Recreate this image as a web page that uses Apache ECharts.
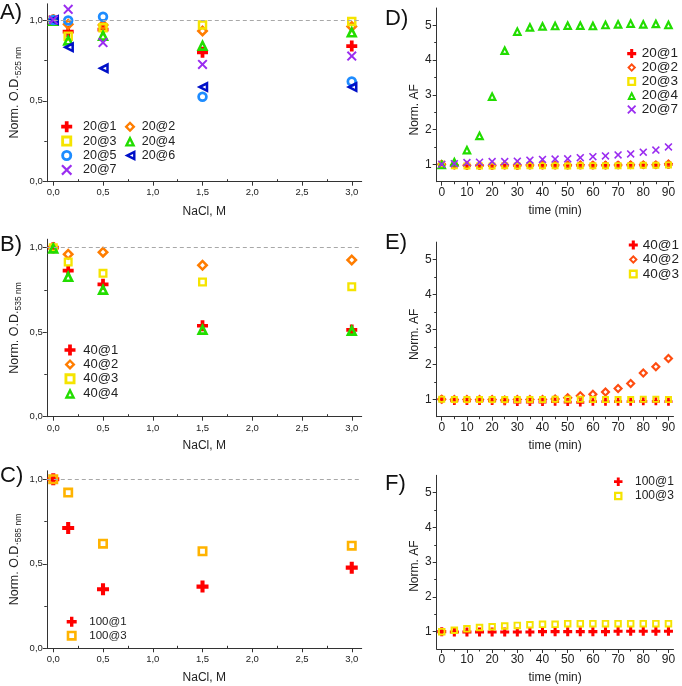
<!DOCTYPE html>
<html><head><meta charset="utf-8">
<script src="https://cdn.jsdelivr.net/npm/echarts@6/dist/echarts.min.js"></script>
<style>html,body{margin:0;padding:0;background:#fff}#c{width:682px;height:686px}</style>
</head><body><div id="c"></div>
<script>
// ---------- data ----------
const nacl = [0, 0.15, 0.5, 1.5, 3.0];
const time = [0, 5, 10, 15, 20, 25, 30, 35, 40, 45, 50, 55, 60, 65, 70, 75, 80, 85, 90];

// Panel A (Norm. O.D. 525 nm)
const a20_1 = [1.0, 0.928, 0.94, 0.80, 0.839];
const a20_2 = [1.0, 0.973, 0.969, 0.932, 0.959];
const a20_3 = [1.0, 0.90, 0.952, 0.969, 0.99];
const a20_4 = [1.0, 0.878, 0.907, 0.846, 0.928];
const a20_5 = [1.0, 0.997, 1.02, 0.525, 0.62];
const a20_6 = [1.0, 0.831, 0.701, 0.585, 0.585];
const a20_7 = [1.0, 1.066, 0.86, 0.725, 0.777];

// Panel B (Norm. O.D. 535 nm)
const b40_1 = [1.0, 0.864, 0.783, 0.538, 0.513];
const b40_2 = [1.0, 0.961, 0.973, 0.896, 0.927];
const b40_3 = [1.0, 0.915, 0.848, 0.797, 0.769];
const b40_4 = [1.0, 0.832, 0.756, 0.519, 0.513];

// Panel C (Norm. O.D. 585 nm)
const c100_1 = [1.0, 0.712, 0.349, 0.365, 0.477];
const c100_3 = [1.0, 0.921, 0.619, 0.574, 0.607];

// Panel D (Norm. AF)
const d20_1 = [1.0, 0.97, 0.96, 0.96, 0.96, 0.97, 0.96, 0.97, 0.97, 0.97, 0.97, 0.97, 0.97, 0.97, 0.98, 0.98, 0.98, 0.98, 0.99];
const d20_2 = [1.0, 0.98, 0.97, 0.97, 0.97, 0.98, 0.98, 0.98, 0.98, 0.98, 0.98, 0.99, 0.98, 0.98, 0.98, 0.99, 0.99, 0.99, 1.02];
const d20_3 = [1.0, 0.96, 0.95, 0.95, 0.95, 0.96, 0.95, 0.96, 0.96, 0.96, 0.95, 0.96, 0.96, 0.96, 0.96, 0.96, 0.97, 0.97, 0.98];
const d20_4 = [1.0, 1.08, 1.43, 1.84, 2.97, 4.29, 4.84, 4.96, 4.99, 5.0, 5.01, 5.01, 5.0, 5.03, 5.05, 5.07, 5.05, 5.06, 5.03];
const d20_7 = [1.0, 1.02, 1.05, 1.06, 1.08, 1.08, 1.09, 1.12, 1.14, 1.15, 1.16, 1.19, 1.22, 1.24, 1.27, 1.30, 1.35, 1.41, 1.50];

// Panel E
const e40_1 = [1.0, 0.95, 0.95, 0.95, 0.95, 0.94, 0.92, 0.92, 0.92, 0.93, 0.92, 0.91, 0.93, 0.93, 0.93, 0.93, 0.94, 0.94, 0.93];
const e40_2 = [1.0, 0.99, 0.99, 0.99, 0.99, 0.98, 0.99, 0.99, 0.99, 1.01, 1.04, 1.10, 1.14, 1.21, 1.31, 1.45, 1.75, 1.93, 2.17];
const e40_3 = [1.0, 0.99, 0.99, 0.99, 0.99, 0.99, 0.99, 0.99, 0.99, 1.0, 1.0, 1.0, 0.99, 0.99, 0.99, 0.99, 1.0, 1.0, 0.99];

// Panel F
const f100_1 = [1.0, 0.99, 0.99, 0.99, 0.99, 0.99, 0.99, 0.99, 1.0, 1.0, 1.0, 1.0, 1.0, 1.0, 1.01, 1.01, 1.01, 1.01, 1.01];
const f100_3 = [1.0, 1.04, 1.08, 1.12, 1.14, 1.16, 1.18, 1.20, 1.21, 1.21, 1.23, 1.23, 1.23, 1.23, 1.23, 1.23, 1.23, 1.23, 1.23];

// ticks
const naclTicks = [0, 0.5, 1.0, 1.5, 2.0, 2.5, 3.0];
const naclMinor = [0.25, 0.75, 1.25, 1.75, 2.25, 2.75];
const odTicks = [0, 0.5, 1.0];
const odMinor = [0.25, 0.75];
const timeTicks = [0, 10, 20, 30, 40, 50, 60, 70, 80, 90];
const timeMinor = [5, 15, 25, 35, 45, 55, 65, 75, 85];
const afTicks = [1, 2, 3, 4, 5];
const afMinor = [1.5, 2.5, 3.5, 4.5];

// ---------- marker shapes (hollow shapes as filled rings) ----------
const FONT = 'Liberation Sans, Arial, sans-serif';
const TXT = '#222';
const AX = '#333';
const PLUS = 'path://M3.3,0H6.7V3.3H10V6.7H6.7V10H3.3V6.7H0V3.3H3.3Z';
const CROSS = 'path://M0,1.4L1.4,0L5,3.6L8.6,0L10,1.4L6.4,5L10,8.6L8.6,10L5,6.4L1.4,10L0,8.6L3.6,5Z';
const SQUARE = 'path://M0,0H10V10H0Z M2.6,2.6V7.4H7.4V2.6Z';
const CIRCLE = 'path://M0,5A5,5,0,1,1,10,5A5,5,0,1,1,0,5Z M2.6,5A2.4,2.4,0,1,0,7.4,5A2.4,2.4,0,1,0,2.6,5Z';
const DIAMOND = 'path://M5,0L10,5L5,10L0,5Z M5,3.0L3.0,5L5,7.0L7.0,5Z';
const TRI = 'path://M5,0L10,10L0,10Z M5,4.92L3.56,7.8L6.44,7.8Z';
const LTRI = 'path://M0,5L10,0L10,10Z M4.92,5L7.8,6.44L7.8,3.56Z';

const marks = {
  plus:    {symbol: PLUS, color: '#ff0000'},
  cross:   {symbol: CROSS, color: '#9a2cf0'},
  diamond: {symbol: DIAMOND, color: '#ff7d00'},
  diamondR:{symbol: DIAMOND, color: '#ff4d10'},
  square:  {symbol: SQUARE, color: '#f5e400'},
  squareO: {symbol: SQUARE, color: '#ffb300'},
  circle:  {symbol: CIRCLE, color: '#1e8cff'},
  tri:     {symbol: TRI, color: '#22dd00'},
  ltri:    {symbol: LTRI, color: '#0010c8'}
};

function ser(name, xs, ys, g, mk, size, extra) {
  const m = marks[mk];
  const s = {
    type: 'scatter', name: name,
    xAxisIndex: 2 * g, yAxisIndex: 2 * g,
    data: xs.map((x, i) => [x, ys[i]]),
    symbol: m.symbol, symbolSize: size, symbolKeepAspect: true,
    itemStyle: {color: m.color, borderWidth: 0, opacity: 1},
    emphasis: {disabled: true},
    z: 3
  };
  return Object.assign(s, extra || {});
}

const dash = {
  markLine: {
    silent: true, symbol: 'none', label: {show: false}, animation: false,
    lineStyle: {color: '#a8a8a8', type: [4, 3], width: 1},
    data: [{yAxis: 1}]
  }
};

const grids = [
  {left: 46.8, top: 3.8, width: 314.9, height: 177.9},
  {left: 46.8, top: 239.2, width: 314.9, height: 177.5},
  {left: 46.8, top: 470.8, width: 314.9, height: 177.5},
  {left: 436.7, top: 8, width: 236.8, height: 173.7},
  {left: 436.7, top: 242.1, width: 236.8, height: 174.6},
  {left: 436.7, top: 475.3, width: 236.8, height: 173.7}
];

const commaFmt = v => v.toFixed(1).replace('.', ',');
const intFmt = v => String(Math.round(v));

function xAxes(g, min, max, ticks, minors, fmt, fs, margin, name, nameFs, nameGap, minorInside) {
  return [{
    type: 'value', gridIndex: g, min: min, max: max, position: 'bottom',
    axisLine: {onZero: false, lineStyle: {color: AX, width: 1}},
    axisTick: {show: true, customValues: ticks, length: 4, lineStyle: {color: AX}},
    axisLabel: {customValues: ticks, formatter: fmt, fontSize: fs, color: TXT, margin: margin, fontFamily: FONT},
    splitLine: {show: false},
    name: name, nameLocation: 'middle', nameGap: nameGap,
    nameTextStyle: {fontSize: nameFs, color: TXT, fontFamily: FONT}
  }, {
    type: 'value', gridIndex: g, min: min, max: max, position: 'bottom',
    axisLine: {show: false, onZero: false},
    axisTick: {show: true, customValues: minors, length: 2.5, inside: !!minorInside, lineStyle: {color: AX}},
    axisLabel: {show: false}, splitLine: {show: false}
  }];
}
function yAxes(g, min, max, ticks, minors, fmt, fs, margin, name, nameStyle, nameGap) {
  return [{
    type: 'value', gridIndex: g, min: min, max: max, position: 'left',
    axisLine: {onZero: false, lineStyle: {color: AX, width: 1}},
    axisTick: {show: true, customValues: ticks, length: 4, lineStyle: {color: AX}},
    axisLabel: {customValues: ticks, formatter: fmt, fontSize: fs, color: TXT, margin: margin, fontFamily: FONT},
    splitLine: {show: false},
    name: name, nameLocation: 'middle', nameGap: nameGap, nameRotate: 90,
    nameTextStyle: nameStyle
  }, {
    type: 'value', gridIndex: g, min: min, max: max, position: 'left',
    axisLine: {show: false, onZero: false},
    axisTick: {show: true, customValues: minors, length: 2.5, lineStyle: {color: AX}},
    axisLabel: {show: false}, splitLine: {show: false}
  }];
}

function odName() {
  return {
    fontSize: 12.5, color: TXT, fontFamily: FONT,
    rich: {
      a: {fontSize: 12.5, color: TXT, fontFamily: FONT, lineHeight: 17, verticalAlign: 'middle'},
      s: {fontSize: 8.5, color: TXT, fontFamily: FONT, lineHeight: 17, verticalAlign: 'bottom'}
    }
  };
}
function afName(shift) {
  return {fontSize: 12, color: TXT, fontFamily: FONT, padding: [0, shift, 0, 0]};
}

const xAxis = [].concat(
  xAxes(0, -0.065, 3.1, naclTicks, naclMinor, commaFmt, 9.5, 6, 'NaCl, M', 12, 24, true),
  xAxes(1, -0.065, 3.1, naclTicks, naclMinor, commaFmt, 9.5, 7, 'NaCl, M', 12, 23, true),
  xAxes(2, -0.065, 3.1, naclTicks, naclMinor, commaFmt, 9.5, 6.5, 'NaCl, M', 12, 23, true),
  xAxes(3, -2, 92, timeTicks, timeMinor, intFmt, 12, 4.5, 'time (min)', 12, 23, false),
  xAxes(4, -2, 92, timeTicks, timeMinor, intFmt, 12, 5, 'time (min)', 12, 23, false),
  xAxes(5, -2, 92, timeTicks, timeMinor, intFmt, 12, 4.5, 'time (min)', 12, 23, false)
);
const yAxis = [].concat(
  yAxes(0, 0, 1.1, odTicks, odMinor, commaFmt, 9.5, 4, '{a|Norm. O.D.}{s|525 nm}', odName(), 24),
  yAxes(1, 0, 1.05, odTicks, odMinor, commaFmt, 9.5, 4, '{a|Norm. O.D.}{s|535 nm}', odName(), 24),
  yAxes(2, 0, 1.05, odTicks, odMinor, commaFmt, 9.5, 4, '{a|Norm. O.D.}{s|585 nm}', odName(), 24),
  yAxes(3, 0.5, 5.5, afTicks, afMinor, intFmt, 12, 5, 'Norm. AF', afName(30), 15),
  yAxes(4, 0.5, 5.5, afTicks, afMinor, intFmt, 12, 5, 'Norm. AF', afName(10), 15),
  yAxes(5, 0.5, 5.5, afTicks, afMinor, intFmt, 12, 5, 'Norm. AF', afName(8), 15)
);

const series = [
  // A
  ser('20@1', nacl, a20_1, 0, 'plus', 11, dash),
  ser('20@2', nacl, a20_2, 0, 'diamond', 12),
  ser('20@3', nacl, a20_3, 0, 'square', 9.5),
  ser('20@4', nacl, a20_4, 0, 'tri', 12),
  ser('20@5', nacl, a20_5, 0, 'circle', 10.5),
  ser('20@6', nacl, a20_6, 0, 'ltri', 11.5),
  ser('20@7', nacl, a20_7, 0, 'cross', 10),
  // B
  ser('40@1', nacl, b40_1, 1, 'plus', 11, dash),
  ser('40@2', nacl, b40_2, 1, 'diamond', 12),
  ser('40@3', nacl, b40_3, 1, 'square', 9),
  ser('40@4', nacl, b40_4, 1, 'tri', 12),
  // C
  ser('100@1', nacl, c100_1, 2, 'plus', 12, dash),
  ser('100@3', nacl, c100_3, 2, 'squareO', 10),
  // D
  ser('20@1 ', time, d20_1, 3, 'plus', 8),
  ser('20@2 ', time, d20_2, 3, 'diamondR', 9.5),
  ser('20@3 ', time, d20_3, 3, 'square', 7),
  ser('20@4 ', time, d20_4, 3, 'tri', 10),
  ser('20@7 ', time, d20_7, 3, 'cross', 8),
  // E
  ser('40@1 ', time, e40_1, 4, 'plus', 8),
  ser('40@2 ', time, e40_2, 4, 'diamondR', 10),
  ser('40@3 ', time, e40_3, 4, 'square', 7),
  // F
  ser('100@1 ', time, f100_1, 5, 'plus', 9),
  ser('100@3 ', time, f100_3, 5, 'square', 7.5)
];

function leg(names, left, top, iw, lh, fs, padL) {
  return {
    orient: 'vertical', left: left, top: top, padding: 0,
    itemWidth: iw, itemHeight: iw, itemGap: 0, selectedMode: false,
    data: names,
    formatter: n => n.trim(),
    textStyle: {fontSize: fs, lineHeight: lh, color: TXT, fontFamily: FONT, padding: [0, 0, 0, padL]}
  };
}
const legend = [
  leg(['20@1', '20@3', '20@5', '20@7'], 61.2, 119.5, 11, 14.4, 12.5, 5.8),
  leg(['20@2', '20@4', '20@6'], 124.5, 119.5, 11, 14.4, 12.5, 1.2),
  leg(['40@1', '40@2', '40@3', '40@4'], 64.5, 342.8, 11, 14.4, 13, 2.8),
  leg(['100@1', '100@3'], 66.7, 614.7, 10, 14, 11.5, 7.6),
  leg(['20@1 ', '20@2 ', '20@3 ', '20@4 ', '20@7 '], 627.2, 46.6, 9, 13.3, 13.5, 0.5),
  leg(['40@1 ', '40@2 ', '40@3 '], 628.8, 237.8, 9, 14.5, 13.5, 0),
  leg(['100@1 ', '100@3 '], 614, 474.5, 8.5, 14.3, 12, 7.5)
];

function plabel(t, x, y) {
  return {type: 'text', x: x, y: y, z: 10,
    style: {text: t, fontSize: 22, fontFamily: FONT, fill: '#111', verticalAlign: 'middle', align: 'left'}};
}
const graphic = [
  plabel('A)', 0, 13), plabel('B)', 0, 245), plabel('C)', 0, 476),
  plabel('D)', 385, 19), plabel('E)', 385, 243), plabel('F)', 385, 484)
];

const chart = echarts.init(document.getElementById('c'), null, {renderer: 'canvas'});
chart.setOption({
  animation: false,
  backgroundColor: '#fff',
  grid: grids, xAxis: xAxis, yAxis: yAxis, series: series, legend: legend, graphic: graphic
});
</script>
</body></html>
